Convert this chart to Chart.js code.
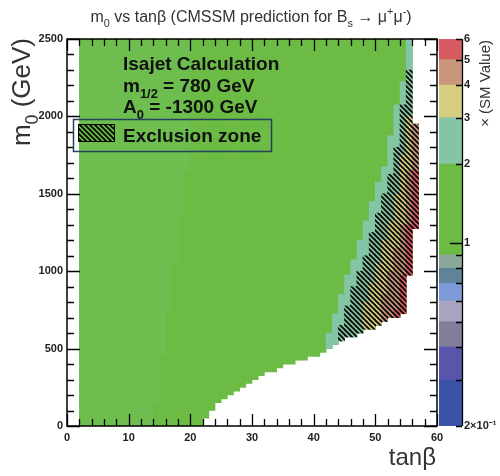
<!DOCTYPE html>
<html>
<head>
<meta charset="utf-8">
<script src="https://cdn.jsdelivr.net/npm/chart.js@4.4.1/dist/chart.umd.min.js"></script>
<style>
  html, body { margin: 0; padding: 0; background: #fff; }
  #wrap { position: relative; width: 500px; height: 476px; }
  #main { position: absolute; left: 0; top: 0; }
  #scale { position: absolute; left: 436px; top: 0; }
</style>
</head>
<body>
<div id="wrap">
  <canvas id="main" width="500" height="476"></canvas>
  <canvas id="scale" width="64" height="476"></canvas>
</div>
<script>
// ---- scan grid: tan(beta) bins of width 1, m0 in GeV ----
const tanBetaBins = [2,3,4,5,6,7,8,9,10,11,12,13,14,15,16,17,18,19,20,21,
  22,23,24,25,26,27,28,29,30,31,32,33,34,35,36,37,38,39,40,41,
  42,43,44,45,46,47,48,49,50,51,52,53,54,55,56];
// lowest valid m0 in each tan(beta) bin
const m0Floor = [0,0,0,0,0,0,0,0,0,0,0,0,0,0,0,0,0,0,0,0,
  50,100,150,175,200,225,250,275,300,325,350,350,375,400,400,425,425,450,450,475,
  500,525,550,575,575,600,625,625,650,675,700,700,725,975,1275];
// highest valid m0 in each tan(beta) bin
const m0Ceil = [2500,2500,2500,2500,2500,2500,2500,2500,2500,2500,2500,2500,2500,2500,2500,2500,2500,2500,2500,2500,
  2500,2500,2500,2500,2500,2500,2500,2500,2500,2500,2500,2500,2500,2500,2500,2500,2500,2500,2500,2500,
  2500,2500,2500,2500,2500,2500,2500,2500,2500,2500,2500,2500,2500,2500,1950];

// low tan(beta) corner with the paler green shade (from m0 upward)
const paleBins = [2,3,4,5,6,7,8,9,10,11,12,13,14,15,16,17,18,19];
const paleFrom = [0,0,0,0,0,0,0,0,0,0,0,0,150,450,750,1050,1350,1650];

// high tan(beta) edge: upper m0 of each ratio band (null = band absent)
const edgeBins      = [42,43,44,45,46,47,48,49,50,51,52,53,54,55,56];
const band2to3Top   = [600,725,850,975,1075,1200,1325,1450,1575,1675,1875,2075,2225,2500,1950];
const band3to4Top   = [null,null,null,null,null,null,800,925,1050,1200,1325,1500,1750,2000,1950];
const band4to5Top   = [null,null,null,null,null,null,null,null,null,850,1000,1150,1300,1650,1950];
const band5to6Top   = [null,null,null,null,null,null,null,null,null,null,null,750,975,1300,1650];
const exclusionTop  = [null,null,650,775,900,1000,1100,1250,1375,1500,1625,1800,2075,2300,1950];

// colour scale: ratio to SM value
const levels = [0.2,0.3,0.4,0.5,0.6,0.7,0.8,0.9,1,2,3,4,5,6];
const bandColors = ['#3a55a8','#5855aa','#807e9a','#a9a3bf','#7c9ad8','#5f8398','#8ba99a',
  '#6bbb45','#6bbb45','#84c5a3','#d5cd80','#c9957b','#d65c62'];
const paleGreen = '#6dbe4f';
const scaleLabels = {0.2:'2×10⁻¹', 1:'1', 2:'2', 3:'3', 4:'4', 5:'5', 6:'6'};

const FONT = '"Liberation Sans", Arial, Helvetica, sans-serif';

// diagonal hatch used for the exclusion zone
function makeHatch() {
  const c = document.createElement('canvas');
  c.width = 5; c.height = 5;
  const g = c.getContext('2d');
  g.strokeStyle = '#000';
  g.lineWidth = 1.7;
  g.beginPath();
  g.moveTo(-1, -1); g.lineTo(6, 6);
  g.moveTo(-1, 4); g.lineTo(1, 6);
  g.moveTo(4, -1); g.lineTo(6, 1);
  g.stroke();
  return document.getElementById('main').getContext('2d').createPattern(c, 'repeat');
}
const hatch = makeHatch();

function floorOf(k) { return m0Floor[tanBetaBins.indexOf(k)]; }
function ceilOf(k) { return m0Ceil[tanBetaBins.indexOf(k)]; }

function edgeBand(tops) {
  const pts = [];
  edgeBins.forEach((k, i) => {
    if (tops[i] !== null) pts.push({ x: k + 0.5, y: [floorOf(k), tops[i]] });
  });
  return pts;
}

const barBase = { barPercentage: 1, categoryPercentage: 1, grouped: false, borderWidth: 0 };

const datasets = [
  Object.assign({ label: 'Exclusion zone', order: 0, backgroundColor: hatch, data: edgeBand(exclusionTop) }, barBase),
  Object.assign({ label: '5-6', order: 1, backgroundColor: bandColors[12], data: edgeBand(band5to6Top) }, barBase),
  Object.assign({ label: '4-5', order: 2, backgroundColor: bandColors[11], data: edgeBand(band4to5Top) }, barBase),
  Object.assign({ label: '3-4', order: 3, backgroundColor: bandColors[10], data: edgeBand(band3to4Top) }, barBase),
  Object.assign({ label: '2-3', order: 4, backgroundColor: bandColors[9], data: edgeBand(band2to3Top) }, barBase),
  Object.assign({ label: '1-2 pale', order: 5, backgroundColor: paleGreen,
    data: paleBins.map((k, i) => ({ x: k + 0.5, y: [paleFrom[i], ceilOf(k)] })) }, barBase),
  Object.assign({ label: '1-2', order: 6, backgroundColor: bandColors[8],
    data: tanBetaBins.map((k, i) => ({ x: k + 0.5, y: [m0Floor[i], m0Ceil[i]] })) }, barBase)
];

// draws rich text made of [text, kind] parts (kind: 0 normal, 1 subscript, 2 superscript)
function richWidth(ctx, parts, size, weight) {
  let w = 0;
  parts.forEach(([t, kind]) => {
    const s = kind ? size * 0.68 : size;
    ctx.font = weight + ' ' + s + 'px ' + FONT;
    w += ctx.measureText(t).width;
  });
  return w;
}
function drawRich(ctx, parts, x, y, size, weight, align) {
  const w = richWidth(ctx, parts, size, weight);
  let cx = align === 'center' ? x - w / 2 : align === 'right' ? x - w : x;
  ctx.textAlign = 'left';
  ctx.textBaseline = 'alphabetic';
  parts.forEach(([t, kind]) => {
    const s = kind ? size * 0.68 : size;
    const dy = kind === 1 ? size * 0.3 : kind === 2 ? -size * 0.42 : 0;
    ctx.font = weight + ' ' + s + 'px ' + FONT;
    ctx.fillText(t, cx, y + dy);
    cx += ctx.measureText(t).width;
  });
}

// frame, inward ticks on all four sides, titles and the info box
const decorations = {
  id: 'decorations',
  afterDatasetsDraw(chart) {
    const { ctx, chartArea: a, scales } = chart;
    const xs = scales.x, ys = scales.y;
    ctx.save();
    ctx.strokeStyle = '#000';
    ctx.lineWidth = 1.3;
    ctx.beginPath();
    for (let v = 0; v <= 60; v += 2) {
      const px = Math.round(xs.getPixelForValue(v)) + 0.5;
      const len = v % 10 === 0 ? 12 : 7;
      ctx.moveTo(px, a.bottom); ctx.lineTo(px, a.bottom - len);
      ctx.moveTo(px, a.top); ctx.lineTo(px, a.top + len);
    }
    for (let v = 0; v <= 2500; v += 100) {
      const py = Math.round(ys.getPixelForValue(v)) + 0.5;
      const len = v % 500 === 0 ? 13 : 7;
      ctx.moveTo(a.left, py); ctx.lineTo(a.left + len, py);
      ctx.moveTo(a.right, py); ctx.lineTo(a.right - len, py);
    }
    ctx.stroke();
    ctx.lineWidth = 1.5;
    ctx.strokeRect(a.left, a.top, a.right - a.left, a.bottom - a.top);
    ctx.restore();
  },
  afterDraw(chart) {
    const { ctx, chartArea: a } = chart;
    ctx.save();
    ctx.fillStyle = '#333';
    drawRich(ctx, [['m', 0], ['0', 1], [' vs tanβ (CMSSM prediction for B', 0], ['s', 1],
      [' → μ', 0], ['+', 2], ['μ', 0], ['-', 2], [')', 0]], 251, 22, 16, 'normal', 'center');

    // axis titles
    drawRich(ctx, [['tanβ', 0]], a.right - 1, 465, 24, 'normal', 'right');
    ctx.save();
    ctx.translate(30, a.top - 1);
    ctx.rotate(-Math.PI / 2);
    drawRich(ctx, [['m', 0], ['0', 1], [' (GeV)', 0]], 0, 0, 26, 'normal', 'right');
    ctx.restore();

    // info text
    ctx.fillStyle = '#111';
    drawRich(ctx, [['Isajet Calculation', 0]], 123, 70, 19, 'bold', 'left');
    drawRich(ctx, [['m', 0], ['1/2', 1], [' = 780 GeV', 0]], 123, 92, 19, 'bold', 'left');
    drawRich(ctx, [['A', 0], ['0', 1], [' = -1300 GeV', 0]], 123, 113, 19, 'bold', 'left');

    // legend box
    ctx.strokeStyle = '#24405e';
    ctx.lineWidth = 1.5;
    ctx.strokeRect(73.5, 119.5, 198, 32);
    ctx.fillStyle = bandColors[8];
    ctx.fillRect(78, 124, 37, 18);
    ctx.fillStyle = hatch;
    ctx.fillRect(78, 124, 37, 18);
    ctx.strokeStyle = '#000';
    ctx.lineWidth = 1;
    ctx.strokeRect(78.5, 124.5, 36, 17);
    ctx.fillStyle = '#111';
    drawRich(ctx, [['Exclusion zone', 0]], 123, 142, 19, 'bold', 'left');
    ctx.restore();
  }
};

new Chart(document.getElementById('main'), {
  type: 'bar',
  data: { datasets },
  options: {
    responsive: false,
    animation: false,
    events: [],
    layout: { padding: { left: 0, right: 63, top: 39, bottom: 28 } },
    plugins: { legend: { display: false }, tooltip: { enabled: false }, title: { display: false } },
    scales: {
      x: {
        type: 'linear', min: 0, max: 60, offset: false,
        grid: { display: false, drawTicks: false }, border: { display: false },
        ticks: { stepSize: 10, padding: 5, maxRotation: 0, color: '#222',
          font: { family: FONT, size: 11, weight: 'bold' },
          callback: v => String(v) },
        afterFit(s) { s.height = 22; }
      },
      y: {
        type: 'linear', min: 0, max: 2500,
        grid: { display: false, drawTicks: false }, border: { display: false },
        ticks: { stepSize: 500, padding: 4, color: '#222',
          font: { family: FONT, size: 11, weight: 'bold' },
          callback: v => String(v) },
        afterFit(s) { s.width = 67; }
      }
    }
  },
  plugins: [decorations]
});

// ---- colour scale bar ----
const scaleDecor = {
  id: 'scaleDecor',
  afterDatasetsDraw(chart) {
    const { ctx, chartArea: a, scales } = chart;
    const ys = scales.y;
    ctx.save();
    ctx.strokeStyle = '#000';
    ctx.lineWidth = 1.3;
    ctx.beginPath();
    levels.forEach(v => {
      const py = Math.round(ys.getPixelForValue(v)) + 0.5;
      const len = v === 1 ? 12 : 6;
      ctx.moveTo(a.right, py); ctx.lineTo(a.right - len, py);
    });
    ctx.moveTo(a.right + 0.5, a.top); ctx.lineTo(a.right + 0.5, a.bottom);
    ctx.stroke();
    ctx.fillStyle = '#333';
    ctx.translate(54, a.top + 1);
    ctx.rotate(-Math.PI / 2);
    drawRich(ctx, [['× (SM Value)', 0]], 0, 0, 15, 'normal', 'right');
    ctx.restore();
  }
};

new Chart(document.getElementById('scale'), {
  type: 'bar',
  data: {
    labels: ['ratio'],
    datasets: bandColors.map((c, i) => ({
      label: levels[i] + '-' + levels[i + 1],
      data: [[levels[i], levels[i + 1]]],
      backgroundColor: c, barPercentage: 1, categoryPercentage: 1, grouped: false, borderWidth: 0
    }))
  },
  options: {
    responsive: false,
    animation: false,
    events: [],
    layout: { padding: { left: 3, right: 0, top: 39, bottom: 50 } },
    plugins: { legend: { display: false }, tooltip: { enabled: false } },
    scales: {
      x: { display: false },
      y: {
        type: 'logarithmic', position: 'right', min: 0.2, max: 6,
        grid: { display: false, drawTicks: false }, border: { display: false },
        afterBuildTicks(s) { s.ticks = levels.map(v => ({ value: v })); },
        ticks: {
          autoSkip: false, padding: 2, color: '#222',
          font: { family: FONT, size: 11, weight: 'bold' },
          callback: v => scaleLabels[v] || ''
        },
        afterFit(s) { s.width = 38; }
      }
    }
  },
  plugins: [scaleDecor]
});
</script>
</body>
</html>
